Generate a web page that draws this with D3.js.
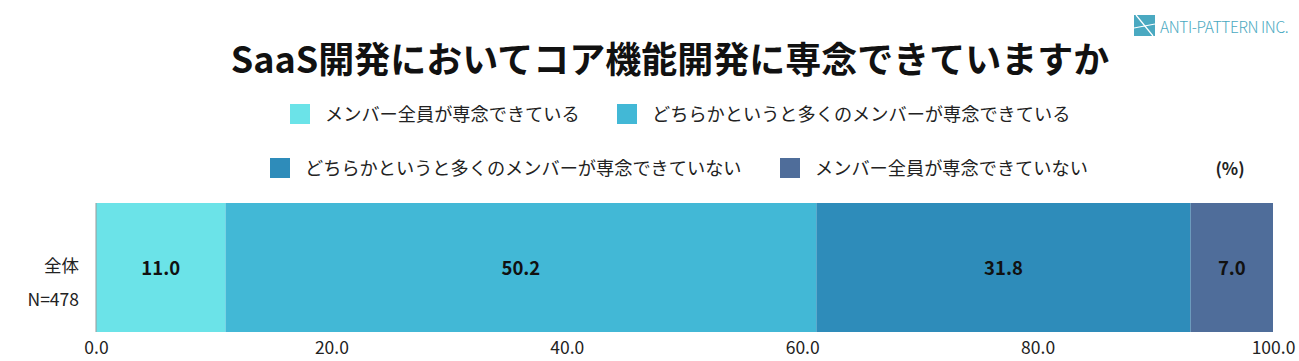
<!DOCTYPE html>
<html><head><meta charset="utf-8">
<script src="https://cdn.jsdelivr.net/npm/d3@7"></script>
<style>body{margin:0;background:#fff;} text{font-family:"Noto Sans CJK JP","Noto Sans",sans-serif;}</style>
</head><body><svg id="c" width="1299" height="361"></svg>
<script>
const categories = ["全体"];
const sampleLabels = ["N=478"];
const seriesNames = ["メンバー全員が専念できている","どちらかというと多くのメンバーが専念できている","どちらかというと多くのメンバーが専念できていない","メンバー全員が専念できていない"];
const seriesValues = [[11.0],[50.2],[31.8],[7.0]];
const seriesColors = ["#6be3e8","#42b8d6","#2e8cba","#4f6d9a"];
const tickValues = [0,20,40,60,80,100];
const titleText = "SaaS開発においてコア機能開発に専念できていますか";

const svg = d3.select("#c");
const x = d3.scaleLinear().domain([0,100]).range([96,1273]);
const y = d3.scaleBand().domain(categories).range([203,332]).padding(0);

// title
svg.append("text").attr("x",670).attr("y",73).attr("text-anchor","middle")
  .attr("font-size",36).attr("font-weight",700).attr("fill","#111").text(titleText);

// logo
const lg = svg.append("g").attr("transform","translate(1134,15)");
lg.append("rect").attr("width",21).attr("height",21).attr("fill","#4aa9c1");
lg.append("path").attr("d","M2,0 L19,21 M0,13 L21,9").attr("stroke","#fff").attr("stroke-width",1.2).attr("fill","none");
svg.append("text").attr("x",1160).attr("y",33).attr("font-size",15.5).attr("font-weight",300)
  .attr("fill","#4aa9c1").attr("letter-spacing",-0.4).text("ANTI-PATTERN INC.");

// legend
const legPos = [[290,104],[617,104],[270,158],[780,158]];
seriesNames.forEach((n,i)=>{
  const [lx,ly]=legPos[i];
  svg.append("rect").attr("x",lx).attr("y",ly).attr("width",20).attr("height",20).attr("fill",seriesColors[i]);
  svg.append("text").attr("x",lx+35).attr("y",ly+17).attr("font-size",18.2).attr("fill","#222").text(n);
});
svg.append("text").attr("x",1230).attr("y",175).attr("text-anchor","middle").attr("font-size",17).attr("font-weight",700).attr("fill","#222").text("(%)");

// stacked bars
categories.forEach((c,ci)=>{
  let acc=0;
  seriesValues.forEach((vals,si)=>{
    const v=vals[ci];
    svg.append("rect").attr("x",x(acc)).attr("y",y(c)).attr("width",x(acc+v)-x(acc)).attr("height",y.bandwidth()).attr("fill",seriesColors[si]);
    svg.append("text").attr("x",(x(acc)+x(acc+v))/2).attr("y",y(c)+y.bandwidth()/2+7)
      .attr("text-anchor","middle").attr("font-size",18.5).attr("font-weight",700).attr("fill","#111").text(v.toFixed(1));
    acc+=v;
  });
  svg.append("text").attr("x",79).attr("y",y(c)+y.bandwidth()/2+4).attr("text-anchor","end").attr("font-size",17.5).attr("fill","#222").text(c);
  svg.append("text").attr("x",79).attr("y",y(c)+y.bandwidth()/2+38).attr("text-anchor","end").attr("font-size",17.5).attr("fill","#222").text(sampleLabels[ci]);
});

// axis
const ax = svg.append("g").attr("transform","translate(0,332)")
  .call(d3.axisBottom(x).tickValues(tickValues).tickFormat(d3.format(".1f")).tickSize(0).tickPadding(10));
ax.select(".domain").remove();
ax.selectAll("text").attr("font-size",17.5).attr("fill","#222").attr("font-family","Noto Sans CJK JP");
svg.append("line").attr("x1",96).attr("x2",96).attr("y1",203).attr("y2",332).attr("stroke","#999").attr("stroke-width",1);
</script></body></html>
